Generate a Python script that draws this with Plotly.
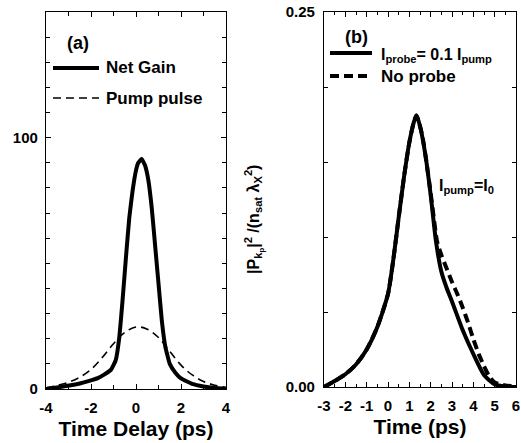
import plotly.graph_objects as go

# Panel (a)
t_gain = [-4, -3.3, -2.5, -2, -1.7, -1.4, -1.1, -0.9, -0.75, -0.6, -0.45, -0.3, -0.15, 0, 0.1, 0.25,
          0.4, 0.55, 0.7, 0.85, 1.0, 1.15, 1.3, 1.5, 1.75, 2.0, 2.5, 3.0, 3.5, 4]
net_gain = [0, 0.9, 2.2, 3.4, 4.3, 5.8, 7.8, 11.5, 20, 35, 52, 68, 79, 87, 90, 91.5,
            89, 83, 72, 57, 42, 27, 17, 10, 6.5, 4.2, 2.0, 1.0, 0.4, 0.1]
t_pump = [-4, -3.5, -3, -2.5, -2, -1.5, -1, -0.5, 0, 0.5, 1, 1.5, 2, 2.5, 3, 3.5, 4]
pump_pulse = [0.5, 1.4, 2.7, 4.7, 7.8, 12.5, 18, 22.5, 24.7, 23.8, 20.5, 15, 9.5, 5.6, 3.0, 1.5, 0.6]
a_x_ticks = [-4, -2, 0, 2, 4]
a_x_labels = ["-4", "-2", "0", "2", "4"]
a_y_ticks = [0, 100]
a_y_labels = ["0", "100"]

# Panel (b)
t_b = [-3, -2.5, -2, -1.5, -1, -0.5, 0, 0.25, 0.5, 0.75, 1.0, 1.2, 1.33, 1.5, 1.75, 2.0, 2.25,
       2.5, 2.75, 3.0, 3.5, 4.0, 4.5, 5.0, 5.5, 6]
probe = [0.0, 0.004, 0.0085, 0.015, 0.025, 0.04, 0.062, 0.085, 0.113, 0.14, 0.163, 0.176, 0.181,
         0.174, 0.155, 0.128, 0.097, 0.077, 0.066, 0.057, 0.038, 0.022, 0.008, 0.0018, 0.0003, 0.0]
t_nb = [-3, -2.5, -2, -1.5, -1, -0.5, 0, 0.25, 0.5, 0.75, 1.0, 1.2, 1.33, 1.6, 1.9, 2.1, 2.3,
        2.5, 2.75, 3.0, 3.25, 3.5, 3.75, 4.0, 4.25, 4.5, 4.75, 5.0, 5.5, 6]
no_probe = [0.0, 0.004, 0.0085, 0.015, 0.025, 0.04, 0.062, 0.085, 0.113, 0.14, 0.163, 0.176, 0.181,
            0.168, 0.14, 0.118, 0.097, 0.088, 0.079, 0.070, 0.062, 0.053, 0.043, 0.032, 0.022,
            0.014, 0.007, 0.003, 0.001, 0.0005]
b_x_ticks = [-3, -2, -1, 0, 1, 2, 3, 4, 5, 6]
b_x_labels = ["-3", "-2", "-1", "0", "1", "2", "3", "4", "5", "6"]
b_y_ticks = [0, 0.25]
b_y_labels = ["0.00", "0.25"]

FONT = "Liberation Sans, Arial, Helvetica, sans-serif"
W, H = 521, 443

fig = go.Figure()
fig.add_trace(go.Scatter(x=t_gain, y=net_gain, mode="lines", line=dict(color="black", width=4, shape="spline", smoothing=0.35),
                         xaxis="x", yaxis="y", showlegend=False))
fig.add_trace(go.Scatter(x=t_pump, y=pump_pulse, mode="lines", line=dict(color="black", width=1.6, dash="8px,5px", shape="spline"),
                         xaxis="x", yaxis="y", showlegend=False))
fig.add_trace(go.Scatter(x=t_nb, y=no_probe, mode="lines", line=dict(color="black", width=4, dash="9px,5px", shape="spline", smoothing=0.6),
                         xaxis="x2", yaxis="y2", showlegend=False))
fig.add_trace(go.Scatter(x=t_b, y=probe, mode="lines", line=dict(color="black", width=4, shape="spline", smoothing=0.6),
                         xaxis="x2", yaxis="y2", showlegend=False))

def px(x):
    return x / W

def py(y):
    return 1 - y / H

axis_common = dict(showline=True, linecolor="black", linewidth=1.2, mirror="ticks", ticks="inside",
                   ticklen=5, tickcolor="black", showgrid=False, zeroline=False, automargin=False,
                   tickfont=dict(family=FONT, size=15, color="black", weight="bold"))
title_font = dict(family=FONT, size=21, color="black", weight="bold")

fig.update_layout(
    width=W, height=H, margin=dict(l=0, r=0, t=0, b=0),
    paper_bgcolor="white", plot_bgcolor="white",
    xaxis=dict(domain=[px(46), px(226)], range=[-4, 4], tickvals=a_x_ticks, ticktext=a_x_labels,
               minor=dict(dtick=1, ticks="inside", ticklen=4, tickcolor="black"), ticklabelstandoff=5,
               title=dict(text="Time Delay (ps)", font=title_font, standoff=6),
               anchor="y", **axis_common),
    yaxis=dict(domain=[py(389), py(12)], range=[0, 150], tickvals=a_y_ticks, ticktext=a_y_labels,
               minor=dict(dtick=10, ticks="inside", ticklen=4, tickcolor="black"), ticklabelstandoff=4,
               anchor="x", **axis_common),
    xaxis2=dict(domain=[px(324), px(516)], range=[-3, 6], tickvals=b_x_ticks, ticktext=b_x_labels,
                minor=dict(dtick=0.5, ticks="inside", ticklen=3, tickcolor="black"), ticklabelstandoff=5,
                title=dict(text="Time (ps)", font=title_font, standoff=6),
                anchor="y2", **axis_common),
    yaxis2=dict(domain=[py(387), py(12)], range=[0, 0.25], tickvals=b_y_ticks, ticktext=b_y_labels,
                minor=dict(dtick=0.05, ticks="inside", ticklen=4, tickcolor="black"), ticklabelstandoff=5,
                anchor="x2", **axis_common),
)

shapes = [
    dict(type="line", xref="paper", yref="paper", x0=px(53), x1=px(99), y0=py(68), y1=py(68),
         line=dict(color="black", width=4)),
    dict(type="line", xref="paper", yref="paper", x0=px(53), x1=px(99), y0=py(98), y1=py(98),
         line=dict(color="black", width=1.6, dash="8px,5px")),
    dict(type="line", xref="paper", yref="paper", x0=px(330), x1=px(372), y0=py(53), y1=py(53),
         line=dict(color="black", width=4)),
    dict(type="line", xref="paper", yref="paper", x0=px(330), x1=px(372), y0=py(76), y1=py(76),
         line=dict(color="black", width=4, dash="9px,5px")),
]
fig.update_layout(shapes=shapes)

def ann(text, x, y, size=16, xanchor="left", textangle=0):
    fig.add_annotation(text=text, xref="paper", yref="paper", x=px(x), y=py(y), showarrow=False,
                       xanchor=xanchor, yanchor="middle", textangle=textangle,
                       font=dict(family=FONT, size=size, color="black", weight="bold"))

ann("(a)", 78, 43, size=18, xanchor="center")
ann("Net Gain", 104, 68, size=17)
ann("Pump pulse", 104, 98, size=17)
ann("(b)", 356, 37, size=18, xanchor="center")
ann("I<sub>probe</sub>= 0.1 I<sub>pump</sub>", 379, 55, size=16)
ann("No probe", 379, 76, size=17)
ann("I<sub>pump</sub>=I<sub>0</sub>", 437, 186, size=16)
ann("|P<sub>k<sub>p</sub></sub>|<sup>2</sup> /(n<sub>sat</sub> λ<sub>X</sub><sup>2</sup>)", 254, 220, size=16,
    xanchor="center", textangle=-90)

fig.write_html("out.html", config={"displayModeBar": False},
               post_script="document.body.style.margin='0';document.body.style.overflow='hidden';")
